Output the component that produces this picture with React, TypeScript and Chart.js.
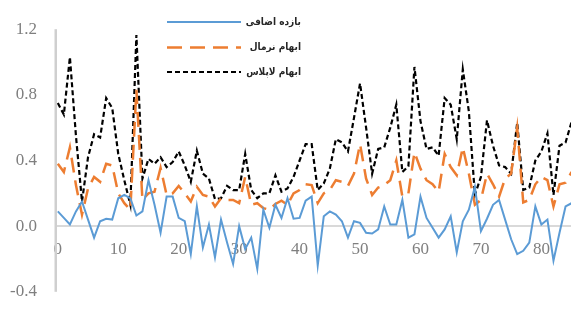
import React, { useEffect, useRef } from "react";
import { Chart, registerables } from "chart.js";
Chart.register(...registerables);

const seriesNames = ["بازده اضافی", "ابهام نرمال", "ابهام لاپلاس"];

const excessReturn = [
  0.09, 0.05, 0.01, 0.09, 0.15, 0.04, -0.07, 0.03, 0.045, 0.04,
  0.17, 0.19, 0.17, 0.065, 0.09, 0.28, 0.13, -0.04, 0.18, 0.18,
  0.05, 0.03, -0.17, 0.12, -0.13, 0.01, -0.19, 0.04, -0.1, -0.23,
  0.0, -0.14, -0.07, -0.26, 0.1, -0.01, 0.13, 0.05, 0.17, 0.045,
  0.05, 0.155, 0.18, -0.24, 0.06, 0.09, 0.07, 0.03, -0.07, 0.03,
  0.02, -0.04, -0.045, -0.02, 0.12, 0.01, 0.01, 0.16, -0.07, -0.05,
  0.18, 0.05, -0.01, -0.07, -0.02, 0.06, -0.16, 0.03, 0.1, 0.24,
  -0.03, 0.045, 0.13, 0.16, 0.04, -0.08, -0.17, -0.15, -0.1, 0.12,
  0.01, 0.04, -0.21, -0.04, 0.12, 0.14,
];

const normalAmbiguity = [
  0.38, 0.33, 0.48, 0.25, 0.07, 0.23, 0.3, 0.27, 0.38, 0.37,
  0.2, 0.14, 0.1, 0.83, 0.16, 0.2, 0.21, 0.355, 0.19, 0.2,
  0.245, 0.2, 0.15, 0.24, 0.19, 0.18, 0.12, 0.17, 0.16, 0.16,
  0.14, 0.3, 0.13, 0.14, 0.11, 0.1, 0.135, 0.155, 0.13, 0.2,
  0.22, 0.255, 0.25, 0.14, 0.2, 0.22, 0.28, 0.27, 0.245, 0.32,
  0.5, 0.29, 0.19, 0.235, 0.25, 0.28, 0.4, 0.18, 0.2, 0.45,
  0.35, 0.28, 0.255, 0.21, 0.44, 0.36, 0.31, 0.48, 0.32, 0.13,
  0.16, 0.32, 0.255, 0.18, 0.29, 0.32, 0.6, 0.145, 0.16, 0.255,
  0.3, 0.28, 0.12, 0.255, 0.265, 0.33,
];

const laplaceAmbiguity = [
  0.75, 0.68, 1.03, 0.55, 0.15, 0.42, 0.56, 0.54, 0.78, 0.72,
  0.44, 0.28, 0.13, 1.165, 0.29, 0.41, 0.38, 0.42, 0.36, 0.39,
  0.455, 0.37, 0.27, 0.46, 0.32, 0.29, 0.165, 0.17, 0.245, 0.22,
  0.22, 0.44, 0.22, 0.17, 0.2, 0.2, 0.31, 0.21, 0.23, 0.3,
  0.4, 0.5, 0.5, 0.22, 0.26, 0.35, 0.53, 0.51, 0.455, 0.66,
  0.87, 0.6, 0.32, 0.47, 0.48, 0.6, 0.74, 0.33, 0.365, 0.97,
  0.64, 0.47, 0.48, 0.43, 0.78, 0.74, 0.53, 0.955, 0.7, 0.19,
  0.3, 0.645, 0.49, 0.37, 0.36, 0.32, 0.63, 0.22, 0.235, 0.4,
  0.455, 0.565, 0.19, 0.49, 0.51, 0.635,
];

const yTicks = [-0.4, 0.0, 0.4, 0.8, 1.2];
const xTickStep = 10;

const toPoints = (arr: number[]) => arr.map((v, i) => ({ x: i, y: v }));

const axisLinePlugin = {
  id: "yAxisLine",
  afterDraw(chart: any) {
    const { ctx, chartArea } = chart;
    ctx.save();
    ctx.fillStyle = "#cfcfcf";
    ctx.fillRect(chartArea.left - 1.5, chartArea.top, 2.5, chartArea.bottom - chartArea.top);
    ctx.restore();
  },
};

const legendPlugin = {
  id: "customLegend",
  afterDraw(chart: any) {
    const ctx = chart.ctx as CanvasRenderingContext2D;
    const rows = [22, 47.5, 72];
    ctx.save();
    chart.data.datasets.forEach((ds: any, i: number) => {
      const y = rows[i];
      ctx.beginPath();
      ctx.setLineDash(ds.borderDash || []);
      ctx.lineWidth = ds.borderWidth;
      ctx.strokeStyle = ds.borderColor;
      ctx.moveTo(167, y);
      ctx.lineTo(241, y);
      ctx.stroke();
      ctx.setLineDash([]);
      ctx.font = 'bold 10px "DejaVu Sans Condensed", "DejaVu Sans"';
      ctx.fillStyle = "#262626";
      ctx.textAlign = "left";
      ctx.textBaseline = "middle";
      const w = ctx.measureText(ds.label).width;
      ctx.fillText(ds.label, 301 - w, y);
    });
    ctx.restore();
  },
};

export default function App() {
  const ref = useRef<HTMLCanvasElement | null>(null);
  useEffect(() => {
    if (!ref.current) return;
    const chart = new Chart(ref.current, {
      type: "line",
      data: {
        datasets: [
          {
            label: seriesNames[0],
            data: toPoints(excessReturn),
            borderColor: "#5b9bd5",
            borderWidth: 2,
            pointRadius: 0,
            tension: 0,
          },
          {
            label: seriesNames[1],
            data: toPoints(normalAmbiguity),
            borderColor: "#ed7d31",
            borderWidth: 2.5,
            borderDash: [15, 8],
            pointRadius: 0,
            tension: 0,
          },
          {
            label: seriesNames[2],
            data: toPoints(laplaceAmbiguity),
            borderColor: "#000000",
            borderWidth: 2.2,
            borderDash: [5, 3],
            pointRadius: 0,
            tension: 0,
          },
        ],
      },
      options: {
        animation: false,
        responsive: false,
        layout: { padding: { top: 20, bottom: 8, left: 0, right: 0 } },
        plugins: { legend: { display: false }, tooltip: { enabled: false } },
        scales: {
          x: {
            type: "linear",
            position: { y: 0 } as any,
            min: -0.3,
            max: 84.9,
            grid: { display: false, drawTicks: false },
            border: { display: true, color: "#d9d9d9", width: 2 },
            ticks: {
              stepSize: xTickStep,
              includeBounds: false,
              padding: 13,
              color: "#7f7f7f",
              font: { family: '"Liberation Serif"', size: 17 },
              callback: (v: any) => (Number(v) % xTickStep === 0 ? String(v) : ""),
            },
          },
          y: {
            type: "linear",
            min: yTicks[0],
            max: yTicks[yTicks.length - 1],
            afterFit: (s: any) => {
              s.width = 56;
            },
            afterBuildTicks: (s: any) => {
              s.ticks = yTicks.map((v) => ({ value: v }));
            },
            grid: { display: false, drawTicks: false },
            border: { display: false },
            ticks: {
              padding: 19,
              color: "#7f7f7f",
              font: { family: '"Liberation Serif"', size: 17 },
              callback: (v: any) => Number(v).toFixed(1),
            },
          },
        },
      },
      plugins: [axisLinePlugin, legendPlugin],
    });
    return () => chart.destroy();
  }, []);
  return (
    <div style={{ position: "fixed", left: 0, top: 0, width: 571, height: 321, background: "#fff" }}>
      <canvas ref={ref} width={571} height={321} style={{ width: 571, height: 321 }} />
    </div>
  );
}
